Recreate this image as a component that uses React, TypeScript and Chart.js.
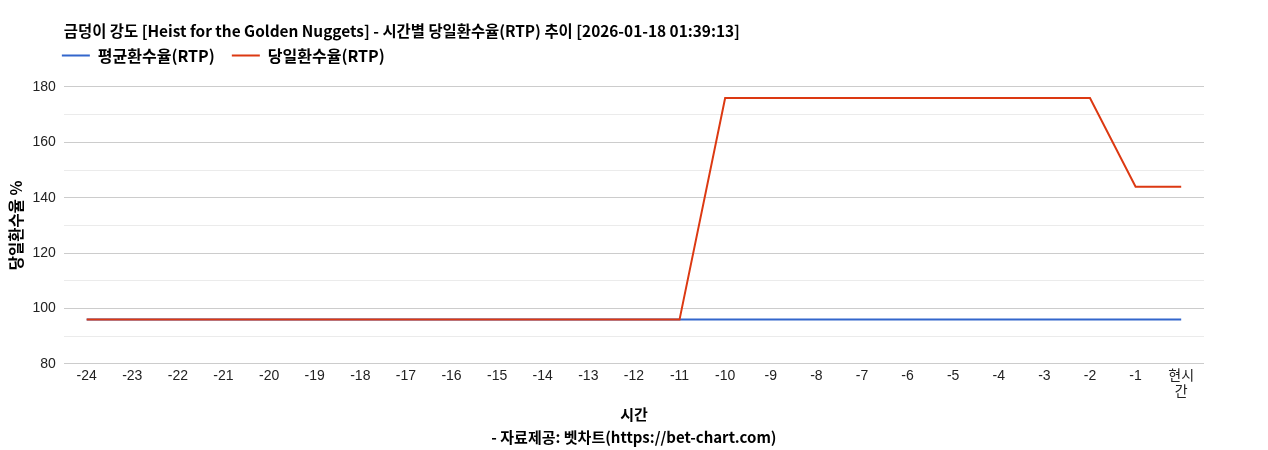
import React, { useEffect, useRef } from 'react';
import { Chart, registerables } from 'chart.js';
import type { ChartConfiguration, Plugin } from 'chart.js';

Chart.register(...registerables);

const TITLE = '금덩이 강도 [Heist for the Golden Nuggets] - 시간별 당일환수율(RTP) 추이 [2026-01-18 01:39:13]';

const hours: (string | string[])[] = [
  '-24', '-23', '-22', '-21', '-20', '-19', '-18', '-17', '-16', '-15', '-14', '-13',
  '-12', '-11', '-10', '-9', '-8', '-7', '-6', '-5', '-4', '-3', '-2', '-1', ['현시', '간'],
];

const avgRtp = [
  96, 96, 96, 96, 96, 96, 96, 96, 96, 96, 96, 96,
  96, 96, 96, 96, 96, 96, 96, 96, 96, 96, 96, 96, 96,
];

const dailyRtp = [
  96, 96, 96, 96, 96, 96, 96, 96, 96, 96, 96, 96,
  96, 96, 176, 176, 176, 176, 176, 176, 176, 176, 176, 144, 144,
];

const BOLD = "'Noto Sans CJK KR', sans-serif";
const TICK = "'Liberation Sans', Arial, 'Noto Sans CJK KR', sans-serif";

// google-charts look: title + legend start at the plot's left edge,
// with some empty room between the legend and the plot
const chromeTweaks: Plugin = {
  id: 'chromeTweaks',
  beforeInit(chart) {
    const legend = (chart as any).legend;
    if (!legend) return;
    const fit = legend.fit;
    legend.fit = function () {
      fit.call(this);
      this.height += 13.5;
    };
  },
  afterLayout(chart) {
    const left = chart.chartArea.left;
    const c = chart as any;
    if (c.titleBlock) c.titleBlock.left = left;
    if (c.legend) c.legend.left = left - 19;
  },
};

const RtpChart: React.FC = () => {
  const canvasRef = useRef<HTMLCanvasElement | null>(null);
  const chartRef = useRef<Chart<'line', number[], string | string[]> | null>(null);

  useEffect(() => {
    // the chart box is a little taller than the viewport minus body margins; no scrollbar
    document.documentElement.style.overflow = 'hidden';

    const canvas = canvasRef.current;
    if (!canvas) return;
    const ctx = canvas.getContext('2d');
    if (!ctx) return;

    const config: ChartConfiguration<'line', number[], string | string[]> = {
      type: 'line',
      data: {
        labels: hours,
        datasets: [
          {
            label: '평균환수율(RTP)',
            data: avgRtp,
            borderColor: '#3366cc',
            backgroundColor: '#3366cc',
            borderWidth: 2,
            pointRadius: 0,
            tension: 0,
            order: 2,
          },
          {
            label: '당일환수율(RTP)',
            data: dailyRtp,
            borderColor: '#dc3912',
            backgroundColor: '#dc3912',
            borderWidth: 2,
            pointRadius: 0,
            tension: 0,
            order: 1,
          },
        ],
      },
      options: {
        responsive: true,
        maintainAspectRatio: false,
        animation: false,
        layout: { padding: { top: 14, left: 0, right: 56, bottom: 0 } },
        plugins: {
          title: {
            display: true,
            text: TITLE,
            align: 'start',
            color: '#000',
            font: { family: BOLD, size: 15.4, weight: 'bold', lineHeight: 1.2 },
            padding: { top: 0, bottom: -10 },
          },
          legend: {
            display: true,
            align: 'start',
            labels: {
              usePointStyle: true,
              pointStyle: 'line',
              pointStyleWidth: 28,
              color: '#000',
              font: { family: BOLD, size: 16, weight: 'bold' },
              padding: 17,
              sort: (a, b) => (a.datasetIndex ?? 0) - (b.datasetIndex ?? 0),
            },
          },
          tooltip: { enabled: false },
        },
        scales: {
          x: {
            offset: true,
            grid: { display: false, drawTicks: false },
            border: { display: false },
            ticks: {
              color: '#222',
              font: { family: TICK, size: 14, lineHeight: 1.15 },
              maxRotation: 0,
              autoSkip: false,
              padding: 4,
            },
            title: {
              display: true,
              text: ['시간', '- 자료제공: 벳차트(https://bet-chart.com)'],
              color: '#000',
              font: { family: BOLD, size: 15, weight: 'bold', lineHeight: 1.53 },
              padding: { top: -1, bottom: 1 },
            },
          },
          y: {
            min: 80,
            max: 180,
            border: { display: false },
            grid: {
              drawTicks: false,
              color: (c) => (c.tick && c.tick.value % 20 === 0 ? '#cccccc' : '#ebebeb'),
              lineWidth: 1,
            },
            ticks: {
              stepSize: 10,
              color: '#222',
              font: { family: TICK, size: 14 },
              padding: 8,
              callback: (v) => (Number(v) % 20 === 0 ? String(v) : ''),
            },
            title: {
              display: true,
              text: '당일환수율 %',
              color: '#000',
              font: { family: BOLD, size: 15.5, weight: 'bold', lineHeight: 1 },
              padding: { top: 0, bottom: 1 },
            },
          },
        },
      },
      plugins: [chromeTweaks],
    };

    chartRef.current = new Chart(ctx, config);
    return () => {
      chartRef.current?.destroy();
      chartRef.current = null;
    };
  }, []);

  return (
    <div style={{ width: 1252, height: 442, position: 'relative' }}>
      <canvas ref={canvasRef} />
    </div>
  );
};

export default function App() {
  return <RtpChart />;
}
